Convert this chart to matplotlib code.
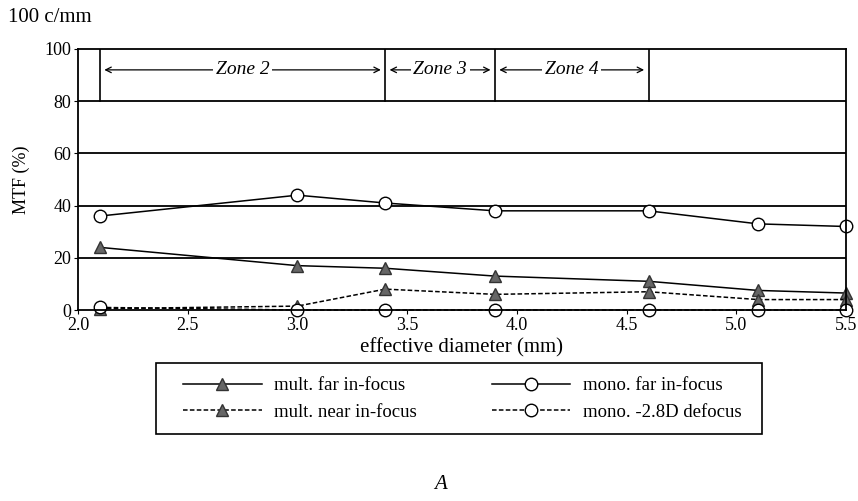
import matplotlib
matplotlib.use("Agg")
import matplotlib.pyplot as plt
from matplotlib.patches import Rectangle

plt.rcParams['font.family'] = ['Liberation Serif', 'DejaVu Serif']

# effective diameter (mm)
diam = [2.1, 3.0, 3.4, 3.9, 4.6, 5.1, 5.5]

# MTF (%) at 100 c/mm
mult_far = [24, 17, 16, 13, 11, 7.5, 6.5]
mult_near = [0.5, 1.5, 8, 6, 7, 4, 4]
mono_far = [36, 44, 41, 38, 38, 33, 32]
mono_defocus = [1, 0, 0, 0, 0, 0, 0]

# zone boundaries (mm)
zone_names = ['Zone 2', 'Zone 3', 'Zone 4']
zone_edges = [2.1, 3.4, 3.9, 4.6]

fig = plt.figure(figsize=(8.58, 5.01), dpi=100)
ax = fig.add_axes([0.0909, 0.3812, 0.8951, 0.521])

tri_kw = dict(marker='^', markersize=8, markerfacecolor='#666666',
              markeredgecolor='#333333', color='black', linewidth=1.1, clip_on=False)
circ_kw = dict(marker='o', markersize=9, markerfacecolor='white',
               markeredgecolor='black', color='black', linewidth=1.1, clip_on=False)

ax.plot(diam, mult_far, linestyle='-', label='mult. far in-focus', **tri_kw)
ax.plot(diam, mult_near, linestyle=(0, (3, 1.5)), label='mult. near in-focus', **tri_kw)
ax.plot(diam, mono_far, linestyle='-', label='mono. far in-focus', **circ_kw)
ax.plot(diam, mono_defocus, linestyle=(0, (3, 1.5)), label='mono. -2.8D defocus', **circ_kw)

for y in [20, 40, 60, 80]:
    ax.axhline(y, color='black', linewidth=1.3, zorder=1)

for x in zone_edges:
    ax.plot([x, x], [80, 100], color='black', linewidth=1.2, zorder=1)

for name, a, b in zip(zone_names, zone_edges[:-1], zone_edges[1:]):
    ax.annotate('', xy=(a + 0.02, 92), xytext=(b - 0.02, 92),
                arrowprops=dict(arrowstyle='<->', color='black', lw=0.9,
                                shrinkA=0, shrinkB=0))
    ax.text((a + b) / 2, 92, name, ha='center', va='center', fontsize=14,
            style='italic', bbox=dict(facecolor='white', edgecolor='none', pad=2))

ax.set_xlim(2.0, 5.5)
ax.set_ylim(0, 100)
ax.set_xticks([2.0, 2.5, 3.0, 3.5, 4.0, 4.5, 5.0, 5.5])
ax.set_xticklabels(['2.0', '2.5', '3.0', '3.5', '4.0', '4.5', '5.0', '5.5'])
ax.set_yticks([0, 20, 40, 60, 80, 100])
ax.tick_params(labelsize=13, length=3, direction='out', pad=2)
for sp in ax.spines.values():
    sp.set_linewidth(1.3)

ax.set_xlabel('effective diameter (mm)', fontsize=15, labelpad=3)
ax.set_ylabel('MTF (%)', fontsize=13, labelpad=10)

fig.text(0.009, 0.965, '100 c/mm', fontsize=15, ha='left', va='center')

# legend box drawn separately so the padding matches the reference
fig.add_artist(Rectangle((0.1818, 0.1337), 0.7063, 0.1417, transform=fig.transFigure,
                         facecolor='none', edgecolor='black', linewidth=1.2))
fig.legend(loc='center left', bbox_to_anchor=(0.2133, 0.2036),
           ncol=2, fontsize=13.5, frameon=False, handlelength=4.2,
           labelspacing=0.5, borderpad=0, borderaxespad=0,
           handletextpad=0.65, columnspacing=4.0)

fig.text(0.513, 0.032, 'A', fontsize=15, style='italic', ha='center', va='center')

fig.savefig('out.png', dpi=100)
